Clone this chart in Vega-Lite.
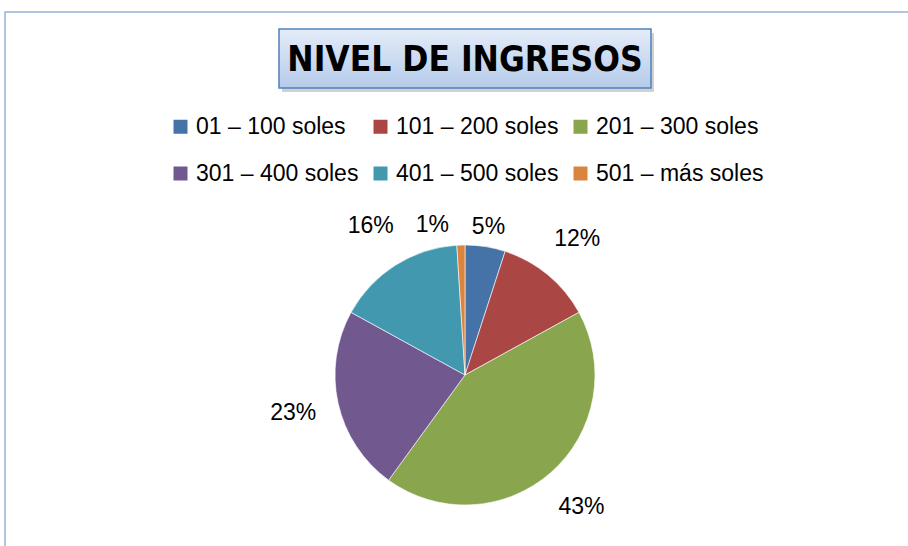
{
  "$schema": "https://vega.github.io/schema/vega-lite/v6.json",
  "width": 920,
  "height": 726,
  "padding": {"left": 5, "top": 12, "right": 0, "bottom": 0},
  "background": "white",
  "config": {"view": {"stroke": "#95B3D7", "strokeWidth": 1.5}, "font": "Liberation Sans"},
  "layer": [
    {
      "data": {"values": [{"title": "NIVEL DE INGRESOS"}]},
      "mark": {"type": "rect", "fill": "#9a9a9a", "opacity": 0.45, "xOffset": 3, "yOffset": 4},
      "encoding": {
        "x": {"field": "title", "type": "nominal", "axis": null, "scale": {"paddingInner": 0, "paddingOuter": 0.7366}},
        "y": {"field": "title", "type": "nominal", "axis": null, "scale": {"paddingInner": 0.8231, "paddingOuter": 1, "align": 0.02549}}
      }
    },
    {
      "data": {"values": [{"title": "NIVEL DE INGRESOS"}]},
      "mark": {
        "type": "rect",
        "fill": {"gradient": "linear", "x1": 0, "y1": 0, "x2": 0, "y2": 1,
          "stops": [{"offset": 0, "color": "#e4ecf8"}, {"offset": 1, "color": "#b5cbea"}]},
        "stroke": "#4F81BD",
        "strokeWidth": 1.5
      },
      "encoding": {
        "x": {"field": "title", "type": "nominal", "axis": null},
        "y": {"field": "title", "type": "nominal", "axis": null}
      }
    },
    {
      "data": {"values": [{"title": "NIVEL DE INGRESOS"}]},
      "mark": {"type": "text", "font": "DejaVu Sans Condensed", "fontSize": 35, "fontWeight": "bold", "color": "#000000", "baseline": "middle", "align": "center", "dy": 1},
      "encoding": {
        "x": {"field": "title", "type": "nominal", "axis": null},
        "y": {"field": "title", "type": "nominal", "axis": null},
        "text": {"field": "title"}
      }
    },
    {
      "data": {"name": "pie"},
      "mark": {"type": "arc", "outerRadius": 130, "stroke": "#ffffff", "strokeWidth": 0.6},
      "encoding": {
        "theta": {"field": "pct", "type": "quantitative", "stack": true},
        "order": {"field": "cat", "type": "nominal"},
        "color": {
          "field": "cat", "type": "nominal",
          "scale": {
            "domain": ["01 – 100 soles", "101 – 200 soles", "201 – 300 soles", "301 – 400 soles", "401 – 500 soles", "501 – más soles"],
            "range": ["#4572A7", "#AA4643", "#89A54E", "#71588F", "#4198AF", "#DB843D"]
          },
          "legend": {
            "orient": "none", "legendX": 164, "legendY": 103, "columns": 3, "direction": "horizontal", "gridAlign": "each",
            "title": null, "padding": 0, "symbolType": "square", "symbolSize": 196, "symbolStrokeWidth": 0,
            "labelFont": "Liberation Sans", "labelFontSize": 23, "labelColor": "#000000", "labelLimit": 300,
            "labelOffset": 4, "columnPadding": 10, "rowPadding": 23
          }
        }
      }
    },
    {
      "data": {"name": "pie"},
      "mark": {"type": "text", "fontSize": 23, "color": "#000000", "baseline": "middle", "align": "center", "dx": {"expr": "datum.pct < 3 ? -28 : 0"}},
      "encoding": {
        "theta": {"field": "pct", "type": "quantitative", "stack": true},
        "order": {"field": "cat", "type": "nominal"},
        "detail": {"field": "cat", "type": "nominal"},
        "radius": {"field": "pct", "type": "quantitative", "scale": {"type": "linear", "domain": [5, 12], "range": [150, 176], "clamp": true, "zero": false}},
        "text": {"field": "label"}
      }
    }
  ],
  "datasets": {
    "pie": [
      {"cat": "01 – 100 soles", "pct": 5, "label": "5%"},
      {"cat": "101 – 200 soles", "pct": 12, "label": "12%"},
      {"cat": "201 – 300 soles", "pct": 43, "label": "43%"},
      {"cat": "301 – 400 soles", "pct": 23, "label": "23%"},
      {"cat": "401 – 500 soles", "pct": 16, "label": "16%"},
      {"cat": "501 – más soles", "pct": 1, "label": "1%"}
    ]
  }
}
